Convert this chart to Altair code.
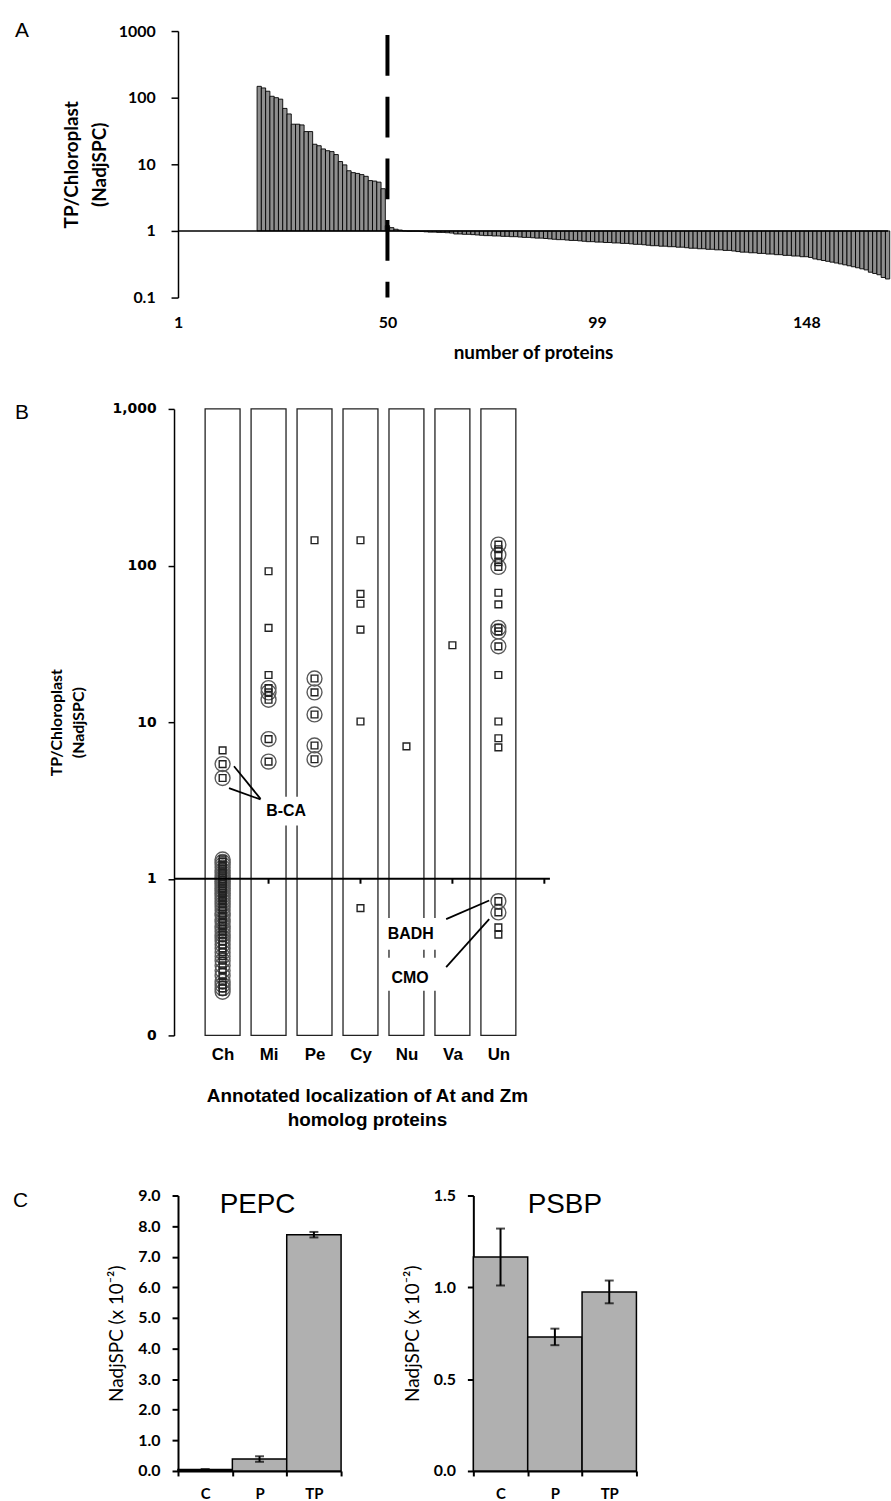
import altair as alt
import pandas as pd

# ---------------- Panel A data ----------------
a_first_protein = 20
a_ratio_up = [148, 140, 125, 105, 100, 95, 69, 57, 40, 40,
              39, 31, 31, 20, 19, 17, 16, 15.5, 14, 11,
              9.8, 8, 7.5, 7.3, 7, 6.6, 5.7, 5.6, 5.4, 4.3]
a_ratio_down = [1.20, 1.12, 1.06, 1.03,
                1.0, 0.99, 0.99, 0.99, 0.98,
                0.97, 0.96, 0.96, 0.95, 0.95, 0.94, 0.93,
                0.90, 0.90, 0.89, 0.89, 0.88, 0.87,
                0.86, 0.85, 0.85, 0.84, 0.84, 0.83, 0.83, 0.82, 0.82, 0.81,
                0.80, 0.80, 0.79, 0.78, 0.78, 0.77, 0.76,
                0.75, 0.74, 0.74, 0.73, 0.72, 0.72, 0.71, 0.70,
                0.69, 0.69, 0.68, 0.68, 0.67, 0.67, 0.66, 0.66, 0.65, 0.65,
                0.64, 0.63, 0.63, 0.62, 0.61, 0.60,
                0.60, 0.59, 0.59, 0.58, 0.58, 0.57, 0.57,
                0.56, 0.55, 0.55, 0.54,
                0.54, 0.53, 0.53, 0.52, 0.52, 0.51, 0.51,
                0.50, 0.49,
                0.48, 0.48, 0.47, 0.47, 0.46, 0.46,
                0.45, 0.45, 0.44, 0.44,
                0.43, 0.43, 0.42, 0.42, 0.41, 0.41, 0.40,
                0.38, 0.37, 0.36, 0.35,
                0.34, 0.33, 0.32, 0.31,
                0.30, 0.29, 0.28, 0.27, 0.26,
                0.24, 0.23, 0.22,
                0.20, 0.19]
a_x_ticks = [1, 50, 99, 148]
a_y_ticks = [0.1, 1, 10, 100, 1000]
a_cutoff = 50
a_last_protein = 167

# ---------------- Panel B data ----------------
b_categories = ["Ch", "Mi", "Pe", "Cy", "Nu", "Va", "Un"]
b_plain = {
    "Ch": [6.6],
    "Mi": [92, 40, 20],
    "Pe": [145],
    "Cy": [145, 66, 57, 39, 10.1, 0.65],
    "Nu": [7.0],
    "Va": [31],
    "Un": [127, 105, 67, 56.5, 20, 10.1, 7.9, 6.9, 0.49, 0.44],
}
b_ringed = {
    "Ch": [5.4, 4.4, 1.33, 1.28, 1.23, 1.18, 1.13, 1.09, 1.05, 1.02, 0.99,
           0.96, 0.93, 0.90, 0.87, 0.84, 0.81, 0.78, 0.75, 0.72, 0.69, 0.66,
           0.63, 0.60, 0.58, 0.55, 0.53, 0.50, 0.48, 0.46, 0.44, 0.42, 0.40,
           0.38, 0.36, 0.34, 0.32, 0.30, 0.28, 0.26, 0.24, 0.22, 0.21, 0.20, 0.19],
    "Mi": [16.5, 15.5, 13.9, 7.8, 5.6],
    "Pe": [19, 15.5, 11.2, 7.1, 5.8],
    "Cy": [],
    "Nu": [],
    "Va": [],
    "Un": [136, 117, 98, 40, 38, 30.5, 0.72, 0.61],
}
b_y_ticks = [0.1, 1, 10, 100, 1000]
b_axis_ticks = [2, 4, 6, 8]

# annotation geometry (category-index / value units)
b_labels = ["B-CA", "BADH", "CMO"]
b_label_x = [2.384, 5.092, 5.081]
b_label_y = [2.72, 0.444, 0.232]
b_lbox_x = [1.87, 4.51, 4.51]
b_lbox_x2 = [2.95, 5.68, 5.68]
b_lbox_y = [3.34, 0.561, 0.313]
b_lbox_y2 = [2.19, 0.352, 0.193]
b_line_x = [1.248, 1.14, 5.864, 5.864]
b_line_y = [5.23, 3.79, 0.553, 0.273]
b_line_x2 = [1.826, 1.826, 6.80, 6.80]
b_line_y2 = [3.24, 3.21, 0.727, 0.553]

# ---------------- Panel C data ----------------
c_groups = ["C", "P", "TP"]
pepc_mean = [0.05, 0.39, 7.72]
pepc_err = [0.01, 0.09, 0.09]
psbp_mean = [1.165, 0.73, 0.975]
psbp_err = [0.155, 0.045, 0.062]

LATO = "Lato"
ARIAL = "Liberation Sans"


def letter(t, dx, dy):
    return alt.Chart(pd.DataFrame({"t": [t]})).mark_text(
        align="left", baseline="alphabetic", font=ARIAL, fontSize=21, color="black"
    ).encode(x=alt.value(dx), y=alt.value(dy), text="t:N")


# ================= Panel A =================
a_vals = a_ratio_up + a_ratio_down
dfA = pd.DataFrame({"protein": list(range(a_first_protein, a_first_protein + len(a_vals))),
                    "y": a_vals})
dfA["x"] = dfA["protein"] - 0.5
dfA["x2"] = dfA["protein"] + 0.5
dfA["y2"] = 1.0

xA = alt.X("x:Q", scale=alt.Scale(domain=[1, a_last_protein + 0.1], nice=False, zero=False),
           axis=alt.Axis(values=a_x_ticks, title="number of proteins", domain=False, ticks=False,
                         grid=False, labelPadding=17, labelFont=LATO, labelFontWeight="bold",
                         labelFontSize=16, labelColor="black", titleFont=LATO,
                         titleFontWeight="bold", titleFontSize=19, titleColor="black",
                         titlePadding=13, labelFlush=False))
yA = alt.Y("y:Q", scale=alt.Scale(type="log", domain=[0.1, 1000], nice=False),
           axis=alt.Axis(values=a_y_ticks,
                         labelExpr="datum.value < 1 ? '0.1' : format(datum.value, 'd')",
                         title=["TP/Chloroplast", "(NadjSPC)"], grid=False, labelOverlap=False,
                         domainColor="black", domainWidth=1.5, tickColor="black", tickWidth=1.5,
                         tickSize=7, labelPadding=16, labelFont=LATO, labelFontWeight="bold",
                         labelFontSize=16, labelColor="black", titleFont=LATO,
                         titleFontWeight="bold", titleFontSize=19, titleColor="black",
                         titlePadding=9, titleLineHeight=28))

barsA = alt.Chart(dfA).mark_rect(fill="#8f8f8f", stroke="black", strokeWidth=0.9).encode(
    x=xA, x2="x2", y=yA, y2="y2")
baseA = alt.Chart(pd.DataFrame({"v": [1]})).mark_rule(color="black", strokeWidth=1.5).encode(
    y=alt.datum(1))
dashA = alt.Chart(pd.DataFrame({"v": [1]})).mark_rule(
    color="black", strokeWidth=4, strokeDash=[41, 21]).encode(
    x=alt.datum(a_cutoff), y=alt.datum(870), y2=alt.datum(0.1))

rowA = alt.layer(barsA, baseA, dashA, letter("A", -164, 6)).properties(width=714, height=268)

# ================= Panel B =================
rows = []
for i, c in enumerate(b_categories):
    for v in b_plain[c]:
        rows.append({"cat": c, "x": i + 1, "y": v, "ring": False})
    for v in b_ringed[c]:
        rows.append({"cat": c, "x": i + 1, "y": v, "ring": True})
dfB = pd.DataFrame(rows)
dfBox = pd.DataFrame({"cat": b_categories, "idx": list(range(1, len(b_categories) + 1))})
dfBox["x"] = dfBox["idx"] - 0.38
dfBox["x2"] = dfBox["idx"] + 0.38
dfBox["y"] = 1000
dfBox["y2"] = 0.1

B_W = 374
label_expr = "[''," + ",".join("'%s'" % c for c in b_categories) + "][datum.value]"
xB = alt.X("x:Q", scale=alt.Scale(domain=[0.030, 8.121], nice=False, zero=False),
           axis=alt.Axis(values=list(range(1, len(b_categories) + 1)), labelExpr=label_expr,
                         domain=False, ticks=False, grid=False, labelPadding=11,
                         labelFont=ARIAL, labelFontWeight="bold", labelFontSize=17,
                         labelColor="black",
                         title=["Annotated localization of At and Zm", "homolog proteins"],
                         titleFont=ARIAL, titleFontWeight="bold", titleFontSize=19,
                         titleColor="black", titlePadding=24, titleLineHeight=25,
                         titleX=190))
yB = alt.Y("y:Q", scale=alt.Scale(type="log", domain=[0.1, 1000], nice=False),
           axis=alt.Axis(values=b_y_ticks, offset=4,
                         labelExpr="datum.value < 1 ? '0' : format(datum.value, ',')",
                         title=["TP/Chloroplast", "(NadjSPC)"], grid=False, labelOverlap=False,
                         domainColor="black", domainWidth=1.5, tickColor="black", tickWidth=1.5,
                         tickSize=6, labelPadding=12, labelFont="DejaVu Sans",
                         labelFontWeight="bold", labelFontSize=14, labelColor="black",
                         titleFont=LATO, titleFontWeight="bold", titleFontSize=16,
                         titleColor="black", titlePadding=26, titleLineHeight=22))

boxesB = alt.Chart(dfBox).mark_rect(fill=None, stroke="#222222", strokeWidth=1.3).encode(
    x=xB, x2="x2", y=yB, y2="y2")
ringsB = alt.Chart(dfB[dfB["ring"]]).mark_point(
    shape="circle", filled=False, size=225, stroke="#5a5a5a", strokeWidth=1.4, opacity=1).encode(
    x=xB, y=yB)
squaresB = alt.Chart(dfB).mark_point(
    shape="square", filled=False, size=46, stroke="#222222", strokeWidth=1.4, opacity=1).encode(
    x=xB, y=yB)
oneB = alt.Chart(pd.DataFrame({"v": [1]})).mark_rule(color="black", strokeWidth=2).encode(
    y=alt.datum(1), x=alt.value(-4), x2=alt.value(B_W))
dfTk = pd.DataFrame({"x": b_axis_ticks, "y": [1] * len(b_axis_ticks),
                     "y2": [0.93] * len(b_axis_ticks)})
ticksB = alt.Chart(dfTk).mark_rule(color="black", strokeWidth=2).encode(x=xB, y=yB, y2="y2")
dfLines = pd.DataFrame({"x": b_line_x, "y": b_line_y, "x2": b_line_x2, "y2": b_line_y2})
linesB = alt.Chart(dfLines).mark_rule(color="black", strokeWidth=1.8).encode(
    x=xB, y=yB, x2="x2", y2="y2")
dfLBox = pd.DataFrame({"x": b_lbox_x, "x2": b_lbox_x2, "y": b_lbox_y, "y2": b_lbox_y2})
lboxB = alt.Chart(dfLBox).mark_rect(fill="white", stroke=None).encode(
    x=xB, x2="x2", y=yB, y2="y2")
dfLab = pd.DataFrame({"x": b_label_x, "y": b_label_y, "t": b_labels})
labB = alt.Chart(dfLab).mark_text(font=ARIAL, fontWeight="bold", fontSize=16,
                                  color="black", baseline="middle").encode(
    x=xB, y=yB, text="t:N")

rowB = alt.layer(boxesB, ringsB, squaresB, oneB, ticksB, linesB, lboxB, labB,
                 letter("B", -164, 10)).properties(width=B_W, height=630)


# ================= Panel C =================
def bar_panel(means, errs, ymax, yvals, title, tdx, with_letter):
    df = pd.DataFrame({"g": c_groups, "mean": means, "err": errs})
    df["lo"] = df["mean"] - df["err"]
    df["hi"] = df["mean"] + df["err"]
    ytitle = "NadjSPC (x 10\u207b\u00b2)"

    def xe():
        return alt.X("g:N", sort=c_groups, title=None,
                     scale=alt.Scale(paddingInner=0, paddingOuter=0),
                     axis=alt.Axis(labelAngle=0, tickBand="extent", tickSize=5, tickWidth=2,
                                   tickColor="black", domainColor="black", domainWidth=2,
                                   labelPadding=11, labelFont=LATO, labelFontWeight="bold",
                                   labelFontSize=15, labelColor="black", grid=False))

    def ye(field):
        return alt.Y(field, title=ytitle,
                     scale=alt.Scale(domain=[0, ymax], nice=False, zero=True),
                     axis=alt.Axis(values=yvals, format=".1f", grid=False,
                                   domainColor="black", domainWidth=2, tickColor="black",
                                   tickWidth=2, tickSize=6, labelPadding=12, labelFont=LATO,
                                   labelFontWeight="bold", labelFontSize=16, labelColor="black",
                                   titleFont=LATO, titleFontWeight="normal", titleFontSize=19,
                                   titleColor="black", titlePadding=11))

    bars = alt.Chart(df).mark_bar(fill="#b0b0b0", stroke="black", strokeWidth=1.5).encode(
        x=xe(), y=ye("mean:Q"))
    rule = alt.Chart(df).mark_rule(color="black", strokeWidth=2).encode(
        x=xe(), y=ye("lo:Q"), y2="hi:Q")
    capl = alt.Chart(df).mark_tick(color="black", size=9, thickness=2).encode(
        x=xe(), y=ye("lo:Q"))
    caph = alt.Chart(df).mark_tick(color="black", size=9, thickness=2).encode(
        x=xe(), y=ye("hi:Q"))
    dft = pd.DataFrame({"g": ["P"], "y": [ymax * 0.967], "t": [title]})
    txt = alt.Chart(dft).mark_text(font=ARIAL, fontSize=28, color="black",
                                   baseline="middle", dx=tdx).encode(
        x=xe(), y=ye("y:Q"), text="t:N")
    layers = [bars, rule, capl, caph, txt]
    if with_letter:
        layers.append(letter("C", -166, 12))
    return alt.layer(*layers).properties(width=164, height=277)


pepc = bar_panel(pepc_mean, pepc_err, 9.0, [0, 1, 2, 3, 4, 5, 6, 7, 8, 9], "PEPC", -2, True)
psbp = bar_panel(psbp_mean, psbp_err, 1.5, [0, 0.5, 1.0, 1.5], "PSBP", 10, False)
rowC = alt.hconcat(pepc, psbp, spacing=61)

chart = alt.vconcat(rowA, alt.vconcat(rowB, rowC, spacing=58), spacing=40).properties(
    padding={"left": 13, "top": 16, "right": 0, "bottom": 0},
    background="white",
).configure_view(stroke=None)

chart.save("out.html", embed_options={"renderer": "svg", "actions": False})
